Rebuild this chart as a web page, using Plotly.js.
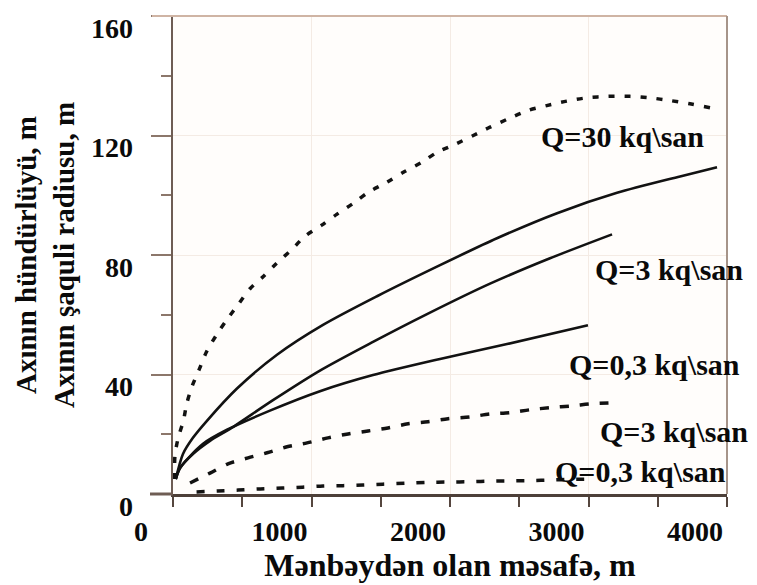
<!DOCTYPE html>
<html>
<head>
<meta charset="utf-8">
<script src="https://cdn.plot.ly/plotly-3.0.1.min.js"></script>
<style>
  html, body { margin: 0; padding: 0; background: #ffffff; }
  #chart { width: 757px; height: 585px; }
</style>
</head>
<body>
<div id="chart"></div>
<script>
// ---- Data (distance in m, value in m) ----
// Dashed curve, Q = 30 kq\san
const dist30Dashed = [12, 14, 38, 75, 99, 139, 190, 243, 315, 388, 472, 556, 652, 749, 857, 953, 1074, 1182, 1302, 1410, 1543, 1663, 1795, 1904, 2048, 2168, 2289, 2421, 2565, 2698, 2843, 2987, 3143, 3300, 3444, 3588, 3733, 3889, 3930];
const val30Dashed  = [5, 12.8, 18.9, 24.5, 30.2, 36.2, 41.8, 47.7, 53.3, 58.3, 63.5, 68.7, 72.8, 77.3, 81.8, 86.3, 90, 93.6, 97.3, 101, 104.3, 107.7, 111, 114.3, 117.3, 120, 122.8, 125.6, 128.4, 130, 131.5, 132.6, 133.1, 133.1, 132.6, 131.7, 130.6, 129.2, 128.9];

// Solid curve, Q = 30 kq\san
const dist30Solid = [20, 72, 144, 245, 462, 751, 1083, 1473, 1928, 2339, 2773, 3206, 3661, 3928];
const val30Solid  = [5, 13.4, 18.8, 24.5, 35.3, 46.6, 56.6, 66.2, 76.6, 85.6, 94, 100.8, 106.3, 109.4];

// Solid curve, Q = 3 kq\san
const dist3Solid = [20, 51, 144, 267, 412, 722, 1061, 1444, 1834, 2289, 2722, 3170];
const val3Solid  = [5, 8.7, 13.4, 17.8, 21.8, 31.4, 41.3, 50.9, 60.2, 70.4, 78.9, 86.9];

// Solid curve, Q = 0,3 kq\san
const dist03Solid = [20, 51, 217, 390, 700, 1061, 1444, 1928, 2412, 2996];
const val03Solid  = [5, 8.7, 16.8, 21.5, 27.9, 34.4, 39.8, 45.2, 50.2, 56.5];

// Dashed curve, Q = 3 kq\san
const dist3Dashed = [123, 267, 397, 542, 679, 823, 968, 1119, 1264, 1408, 1552, 1697, 1841, 1986, 2144, 2289, 2433, 2578, 2722, 2881, 3025, 3170];
const val3Dashed  = [3.7, 7, 10.1, 12.1, 13.8, 15.8, 17.1, 18.8, 20.1, 21.1, 22.1, 23.5, 24.2, 25.2, 25.8, 26.8, 27.2, 28.2, 28.9, 29.5, 30.2, 30.5];

// Dashed curve, Q = 0,3 kq\san
const dist03Dashed = [170, 325, 470, 630, 790, 935, 1083, 1228, 1372, 1516, 1675, 1834, 1986, 2152, 2296, 2441, 2585, 2730, 2880, 3030];
const val03Dashed  = [0.7, 1.0, 1.3, 1.7, 2.0, 2.3, 2.7, 2.8, 3.0, 3.3, 3.6, 3.9, 4.0, 4.1, 4.3, 4.4, 4.5, 4.7, 4.9, 5.0];

// Tick labels
const xTickVals = [0, 1000, 2000, 3000, 4000];
const xTickText = ['0', '1000', '2000', '3000', '4000'];
const yTickVals = [0, 40, 80, 120, 160];
const yTickText = ['0', '40', '80', '120', '160'];

// Curve labels
const labelTexts = ['Q=30 kq\\san', 'Q=3 kq\\san', 'Q=0,3 kq\\san', 'Q=3 kq\\san', 'Q=0,3 kq\\san'];
const labelX = [3242, 3581, 3473, 3617, 3379];
const labelY = [119.8, 75.2, 43.3, 20.8, 7.4];

// ---- Chart ----
const serif = 'Liberation Serif, Times New Roman, serif';
const ink = '#121212';

function curve(x, y, dash, width, name) {
  return {
    type: 'scatter', mode: 'lines', x: x, y: y, name: name,
    line: { color: ink, width: width, dash: dash, shape: 'spline', smoothing: 0.8 },
    hoverinfo: 'x+y', showlegend: false
  };
}

const traces = [
  curve(dist30Dashed, val30Dashed, '6px,10px', 3.5, 'Q=30 kq\\san (dashed)'),
  curve(dist30Solid, val30Solid, 'solid', 2.6, 'Q=30 kq\\san'),
  curve(dist3Solid, val3Solid, 'solid', 2.6, 'Q=3 kq\\san'),
  curve(dist03Solid, val03Solid, 'solid', 2.6, 'Q=0,3 kq\\san'),
  curve(dist3Dashed, val3Dashed, '9px,11px', 3.5, 'Q=3 kq\\san (dashed)'),
  curve(dist03Dashed, val03Dashed, '8px,12px', 3.5, 'Q=0,3 kq\\san (dashed)')
];

const annotations = labelTexts.map((t, i) => ({
  x: labelX[i], y: labelY[i], xref: 'x', yref: 'y',
  text: t, showarrow: false,
  font: { family: serif, size: 30, color: '#0a0a0a', weight: 'bold' },
  xanchor: 'center', yanchor: 'middle'
}));

const layout = {
  width: 757, height: 585,
  margin: { l: 173, r: 30, t: 16, b: 91, pad: 0 },
  paper_bgcolor: '#ffffff',
  plot_bgcolor: '#fffdfb',
  showlegend: false,
  xaxis: {
    range: [0, 4000],
    tickvals: xTickVals, ticktext: xTickText,
    ticks: 'outside', ticklen: 10, tickwidth: 2, tickcolor: '#55463f',
    minor: { dtick: 500, ticks: 'outside', ticklen: 10, tickwidth: 2, tickcolor: '#55463f', showgrid: false },
    showline: true, linecolor: '#4d3f38', linewidth: 3,
    showgrid: true, gridcolor: '#f4ebe4', gridwidth: 1,
    zeroline: false,
    ticklabelshift: -32,
    ticklabelstandoff: 0,
    ticklabeloverflow: 'allow',
    tickfont: { family: serif, size: 28, color: '#0a0a0a', weight: 'bold' },
    title: { text: 'Mənbəydən olan məsafə, m', font: { family: serif, size: 32, color: '#0a0a0a', weight: 'bold' }, standoff: 4 },
    automargin: false, fixedrange: true
  },
  yaxis: {
    range: [0, 160],
    tickvals: yTickVals, ticktext: yTickText,
    ticks: 'outside', ticklen: 20, tickwidth: 2, tickcolor: '#8c776b',
    minor: { dtick: 20, ticks: 'outside', ticklen: 10, tickwidth: 2, tickcolor: '#8c776b', showgrid: false },
    showline: true, linecolor: '#6e5d54', linewidth: 2.5,
    showgrid: true, gridcolor: '#f4ebe4', gridwidth: 1,
    zeroline: false,
    ticklabelshift: 12,
    ticklabelstandoff: 12,
    ticklabeloverflow: 'allow',
    tickfont: { family: serif, size: 28, color: '#0a0a0a', weight: 'bold' },
    title: { text: 'Axının hündürlüyü, m<br>Axının şaquli radiusu, m', font: { family: serif, size: 29, color: '#0a0a0a', weight: 'bold' }, standoff: 8 },
    automargin: false, fixedrange: true
  },
  shapes: [
    { type: 'line', xref: 'paper', yref: 'paper', x0: -0.038, x1: 1, y0: 1, y1: 1, line: { color: '#cfb4a4', width: 2 } },
    { type: 'line', xref: 'paper', yref: 'paper', x0: 1, x1: 1, y0: 0, y1: 1, line: { color: '#a69489', width: 2 } },
    { type: 'line', xref: 'paper', yref: 'paper', x0: -0.0415, x1: 0, y0: 0, y1: 0, line: { color: '#6e5d54', width: 3 } }
  ],
  annotations: annotations
};

Plotly.newPlot('chart', traces, layout, { displayModeBar: false, staticPlot: true });
</script>
</body>
</html>
